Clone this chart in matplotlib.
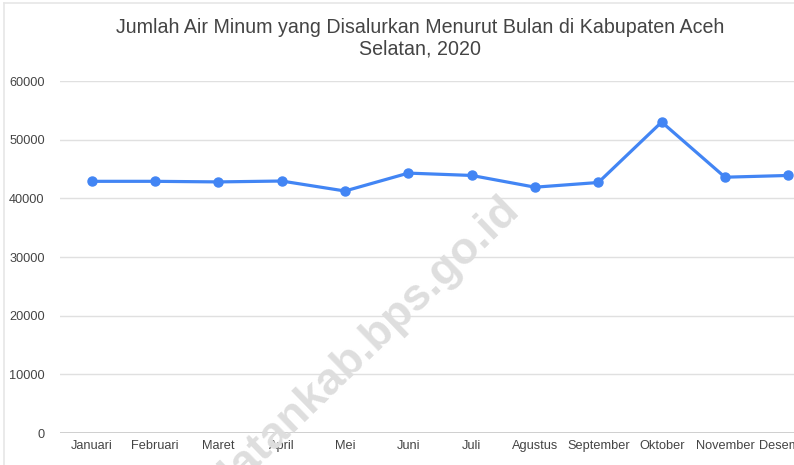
import matplotlib.pyplot as plt
from matplotlib.lines import Line2D

plt.rcParams['font.family'] = ['Liberation Sans', 'DejaVu Sans']

bulan = ["Januari", "Februari", "Maret", "April", "Mei", "Juni",
         "Juli", "Agustus", "September", "Oktober", "November", "Desember"]
air_minum = [42900, 42900, 42800, 42950, 41250, 44300,
             43900, 41900, 42700, 53000, 43600, 43900]
y_ticks = [0, 10000, 20000, 30000, 40000, 50000, 60000]

W, H = 794, 465
fig = plt.figure(figsize=(W / 100, H / 100), dpi=100)
fig.patch.set_facecolor("white")

# axes run past the right edge, like the cropped original
left, right, top, bottom = 60, 820, 81, 433
ax = fig.add_axes([left / W, 1 - bottom / H, (right - left) / W, (bottom - top) / H])

x = list(range(len(bulan)))
ax.plot(x, air_minum, color="#4285F4", lw=2.3, marker="o", ms=6.5, zorder=5,
        solid_capstyle="round", clip_on=False)

ax.set_xlim(-0.5, len(bulan) - 0.5)
ax.set_ylim(0, 60000)
ax.set_yticks(y_ticks)
ax.set_yticklabels([str(v) for v in y_ticks])
ax.set_xticks(x)
ax.set_xticklabels(bulan)
ax.tick_params(axis="both", length=0, labelsize=9.2, colors="#444444")
ax.tick_params(axis="y", pad=11)
ax.tick_params(axis="x", pad=5)

for v in y_ticks[1:]:
    ax.axhline(v, color="#e0e0e0", lw=1, zorder=1)
ax.axhline(0, color="#cccccc", lw=1.3, zorder=2)
for s in ax.spines.values():
    s.set_visible(False)

fig.text(420 / W, 1 - 38 / H, "Jumlah Air Minum yang Disalurkan Menurut Bulan di Kabupaten Aceh\nSelatan, 2020",
         ha="center", va="center", fontsize=14.1, color="#444444", linespacing=1.18)

# watermark
fig.text(521 / W, 1 - 212 / H, "acehselatankab.bps.go.id", rotation=44, rotation_mode="anchor",
         ha="right", va="baseline", fontsize=32.5, fontweight="bold", color="#dedede", zorder=0)

# card border
fig.add_artist(Line2D([4 / W, 4 / W], [0, 1 - 3 / H], color="#e6e6e6", lw=1.2))
fig.add_artist(Line2D([4 / W, 1], [1 - 3 / H, 1 - 3 / H], color="#e6e6e6", lw=1.2))

fig.savefig("out.png", dpi=100)
